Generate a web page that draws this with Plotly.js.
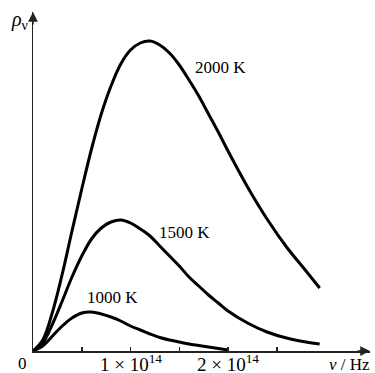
<!DOCTYPE html>
<html>
<head>
<meta charset="utf-8">
<script src="https://cdn.plot.ly/plotly-3.0.1.min.js"></script>
<style>html,body{margin:0;padding:0;background:#fff;}#chart{width:375px;height:373px;}</style>
</head>
<body>
<div id="chart"></div>
<script>
// frequency in units of 1e14 Hz
var nuHot = [0,0.1,0.2,0.3,0.4,0.5,0.6,0.7,0.8,0.9,1.0,1.1,1.2,1.3,1.4,1.5,1.6,1.7,1.8,1.9,2.0,2.2,2.4,2.6,2.8,2.94];
var nuCold = [0,0.1,0.2,0.3,0.4,0.5,0.6,0.7,0.8,0.9,1.0,1.1,1.2,1.3,1.4,1.5,1.6,1.7,1.8,1.9,2.0];
// spectral energy density (arbitrary units)
var rho2000 = [0,11,39,77,120,162,202,237,265,287,301,308,310,306,298,286,271,255,237,219,200,164,132,104,80,63];
var rho1500 = [0,8,27,50,74,95,112,123,129,131,128,122,115,105,95,85,74,65,56,48,40,28,19,13,9,7];
var rho1000 = [0,5,15,25,33,38,39,37,34,30,25,21,17,13.5,11,9,7,5.5,4,2.5,1];
var seriesNames = ['2000 K','1500 K','1000 K'];
var tickVals = [0.5,1,1.5,2,2.5];
var tickText = ['','1 × 10<sup>14</sup>','','2 × 10<sup>14</sup>',''];

var serif = '"Liberation Serif", "DejaVu Serif", serif';
function tr(x,y,n){return {x:x,y:y,name:n,type:'scatter',mode:'lines',line:{color:'#000',width:3,shape:'spline',smoothing:1},hoverinfo:'skip'};}
var data = [tr(nuHot,rho2000,seriesNames[0]),tr(nuHot,rho1500,seriesNames[1]),tr(nuCold,rho1000,seriesNames[2])];

var ann = [
 {x:1.641,y:284,text:seriesNames[0],xanchor:'left',yanchor:'middle',showarrow:false},
 {x:1.272,y:119,text:seriesNames[1],xanchor:'left',yanchor:'middle',showarrow:false},
 {x:0.533,y:54,text:seriesNames[2],xanchor:'left',yanchor:'middle',showarrow:false},
 {xref:'paper',yref:'paper',x:-0.0326,y:-0.038,text:'0',xanchor:'center',yanchor:'middle',showarrow:false},
 {xref:'paper',yref:'paper',x:0.94,y:-0.041,text:'<i>ν</i> / Hz',xanchor:'center',yanchor:'middle',showarrow:false},
 {xref:'paper',yref:'paper',x:-0.039,y:0.976,text:'<i>ρ</i><sub>ν</sub>',xanchor:'center',yanchor:'middle',showarrow:false,fontsize:20},
 {x:3.456,y:0,ax:-14,ay:0,text:'',showarrow:true,arrowhead:2,arrowsize:1.3,arrowwidth:1.5,arrowcolor:'#222'},
 {x:0,y:339,ax:0,ay:14,text:'',showarrow:true,arrowhead:2,arrowsize:1.3,arrowwidth:1.5,arrowcolor:'#222'}
];
tickVals.forEach(function(v,i){
  if(tickText[i]) ann.push({x:v,xref:'x',yref:'paper',y:-0.036,text:tickText[i],xanchor:'center',yanchor:'middle',showarrow:false,fontsize:19});
});
ann.forEach(function(a){a.font={family:serif,size:a.fontsize||17,color:'#000'};delete a.fontsize;});

var layout = {
 width:375,height:373,
 margin:{l:33,r:5,t:12,b:22,pad:0},
 paper_bgcolor:'#fff',plot_bgcolor:'#fff',
 showlegend:false,
 font:{family:serif},
 xaxis:{range:[0,3.456],showgrid:false,zeroline:false,showline:true,linecolor:'#222',linewidth:1.5,
   tickvals:tickVals,showticklabels:false,ticks:'inside',ticklen:4,tickwidth:1.5,tickcolor:'#222',fixedrange:true},
 yaxis:{range:[0,339],showgrid:false,zeroline:false,showline:true,linecolor:'#222',linewidth:1.5,
   showticklabels:false,ticks:'',fixedrange:true},
 annotations:ann
};
Plotly.newPlot('chart',data,layout,{staticPlot:true});
</script>
</body>
</html>
